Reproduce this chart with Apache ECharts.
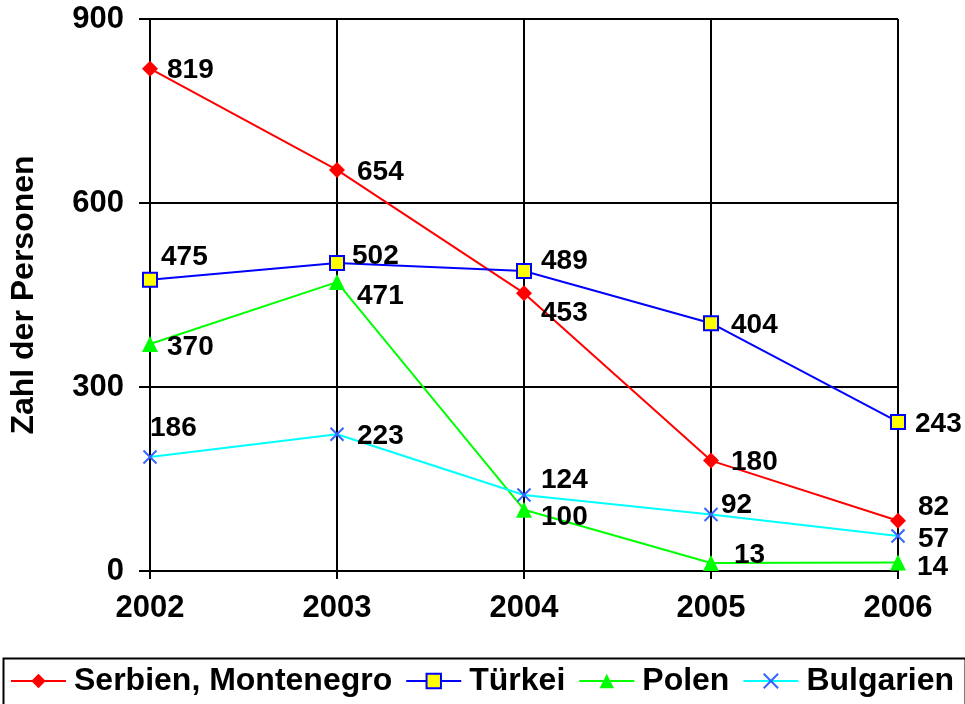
<!DOCTYPE html>
<html>
<head>
<meta charset="utf-8">
<script src="https://cdn.jsdelivr.net/npm/echarts@6/dist/echarts.min.js"></script>
<style>
  html, body { margin: 0; padding: 0; background: #fff; }
  #chart { width: 965px; height: 704px; }
</style>
</head>
<body>
<div id="chart"></div>
<script>
// Jahre und Personen je Herkunftsland
const years = ['2002', '2003', '2004', '2005', '2006'];
const serbien = [819, 654, 453, 180, 82];
const tuerkei = [475, 502, 489, 404, 243];
const polen = [370, 471, 100, 13, 14];
const bulgarien = [186, 223, 124, 92, 57];

// Lage der Wertebeschriftungen relativ zum Punkt (dx, dy)
const serbienLabelPos = [[17, 2], [20, 2], [17, 20], [20, 2], [20, -13]];
const tuerkeiLabelPos = [[11, -22], [15, -7], [17, -10], [20, 2], [17, 2]];
const polenLabelPos = [[17, 3], [20, 14], [17, 8], [23, -8], [19, 5]];
const bulgarienLabelPos = [[0, -29], [20, 2], [17, -15], [10, -9], [20, 3]];

const FONT = 'Liberation Sans, Arial, sans-serif';

function with_labels(values, offsets) {
    return values.map(function (v, i) {
        return {value: v, label: {offset: offsets[i]}};
    });
}

function make_series(name, values, offsets, lineColor, symbol, symbolSize, itemStyle) {
    return {
        name: name,
        type: 'line',
        data: with_labels(values, offsets),
        symbol: symbol,
        symbolSize: symbolSize,
        lineStyle: {color: lineColor, width: 2},
        itemStyle: itemStyle,
        label: {
            show: true,
            position: 'inside',
            align: 'left',
            verticalAlign: 'middle',
            color: '#000',
            fontFamily: FONT,
            fontWeight: 'bold',
            fontSize: 28
        },
        emphasis: {disabled: true},
        z: 3
    };
}

const chart = echarts.init(document.getElementById('chart'), null, {renderer: 'canvas'});

chart.setOption({
    animation: false,
    grid: {left: 148, right: 67, top: 19, bottom: 133},
    xAxis: {
        type: 'category',
        data: years,
        boundaryGap: false,
        axisLine: {lineStyle: {color: '#000', width: 2}},
        axisTick: {show: true, length: 8, lineStyle: {color: '#000', width: 2}},
        splitLine: {show: true, lineStyle: {color: '#000', width: 2}},
        axisLabel: {color: '#000', fontFamily: FONT, fontWeight: 'bold', fontSize: 31, margin: 22}
    },
    yAxis: {
        type: 'value',
        min: 0,
        max: 900,
        interval: 300,
        name: 'Zahl der Personen',
        nameLocation: 'middle',
        nameGap: 110,
        nameTextStyle: {color: '#000', fontFamily: FONT, fontWeight: 'bold', fontSize: 32},
        axisLine: {show: true, lineStyle: {color: '#000', width: 2}},
        axisTick: {show: true, length: 11, lineStyle: {color: '#000', width: 2}},
        splitLine: {show: true, lineStyle: {color: '#000', width: 2}},
        axisLabel: {color: '#000', fontFamily: FONT, fontWeight: 'bold', fontSize: 31, margin: 26}
    },
    legend: {
        left: 5,
        top: 660,
        itemWidth: 55,
        itemHeight: 18,
        itemGap: 13,
        textStyle: {color: '#000', fontFamily: FONT, fontWeight: 'bold', fontSize: 32, padding: [0, 0, 0, 3]}
    },
    graphic: [{
        type: 'rect',
        left: 1,
        top: 656,
        shape: {width: 962, height: 70},
        style: {fill: 'none', stroke: '#000', lineWidth: 2},
        silent: true
    }],
    series: [
        make_series('Serbien, Montenegro', serbien, serbienLabelPos, '#ff0000', 'diamond', 16,
            {color: '#ff0000'}),
        make_series('Türkei', tuerkei, tuerkeiLabelPos, '#0000ff', 'rect', 14,
            {color: '#ffff00', borderColor: '#0000ff', borderWidth: 2}),
        make_series('Polen', polen, polenLabelPos, '#00ff00', 'triangle', 16,
            {color: '#00ff00'}),
        make_series('Bulgarien', bulgarien, bulgarienLabelPos, '#00ffff',
            'path://M0,0 L10,10 M10,0 L0,10', 13,
            {color: 'none', borderColor: '#3366ff', borderWidth: 2})
    ]
});
</script>
</body>
</html>
